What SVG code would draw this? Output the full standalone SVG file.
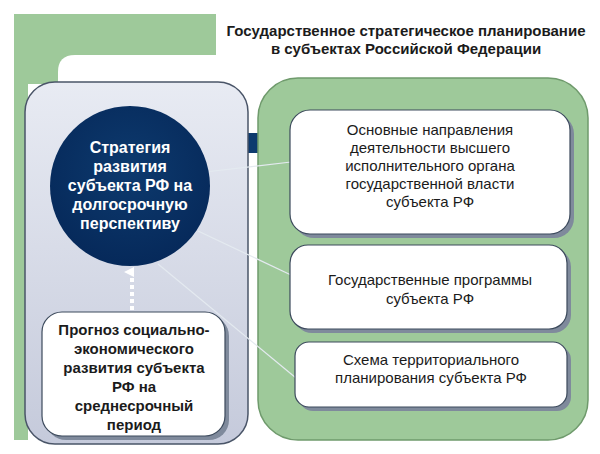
<svg xmlns="http://www.w3.org/2000/svg" width="600" height="454" viewBox="0 0 600 454">
<defs>
<linearGradient id="lg" x1="0" y1="0" x2="0" y2="1"><stop offset="0" stop-color="#e8ebf3"/><stop offset="1" stop-color="#c5cadb"/></linearGradient>
<radialGradient id="cg" cx="0.5" cy="0.4" r="0.6"><stop offset="0" stop-color="#0d3a6e"/><stop offset="1" stop-color="#06295a"/></radialGradient>
<marker id="ah" markerWidth="10" markerHeight="10" refX="5" refY="8" orient="auto" markerUnits="userSpaceOnUse"><path d="M0,10 L5,0 L10,10 Z" fill="#fff"/></marker>
</defs>
<style>
.box{fill:#fff;stroke:#3c4a5c;stroke-width:1.2}
.sh{fill:#7f8a9c}
.t{font-family:"Liberation Sans",Arial,sans-serif;font-size:15px;fill:#1b1b1b;text-anchor:middle}
.b{font-weight:bold}
.w{fill:#fff;font-weight:bold;font-size:16px}
.c{stroke:#e4eaf0;stroke-width:1.2;fill:none}
</style>
<rect width="600" height="454" fill="#fff"/>
<g id="background">
<rect x="14" y="14" width="202" height="70" fill="#9ec99a"/>
<rect x="14" y="14" width="14" height="426" fill="#9ec99a"/>
<path d="M58,84 L58,72 Q58,55 75,55 L216,55 L216,84 Z" fill="#fff"/>
</g>
<text class="t b" x="406" y="36" font-size="14">Государственное стратегическое планирование</text>
<text class="t b" x="406" y="54" font-size="14">в субъектах Российской Федерации</text>
<rect x="248" y="133" width="12" height="20" fill="#0d3a6e"/>
<g id="left-panel"><rect x="25" y="82" width="223" height="362" rx="30" fill="url(#lg)" stroke="#4a5568" stroke-width="1.5"/></g>
<g id="right-panel"><rect x="258" y="78" width="330" height="362" rx="40" fill="#9ec99a" stroke="#6f9a6c" stroke-width="1.5"/></g>
<g id="connectors">
<line class="c" x1="205" y1="172" x2="291" y2="162"/>
<line class="c" x1="198" y1="231" x2="291" y2="275"/>
<line class="c" x1="158" y1="264" x2="296" y2="378"/>
<line x1="132" y1="310" x2="132" y2="272" stroke="#fff" stroke-width="4" stroke-dasharray="4,3" marker-end="url(#ah)"/>
</g>
<g id="strategy">
<circle cx="130" cy="186" r="80" fill="url(#cg)"/>
<text class="t w" x="130" y="153">Стратегия</text>
<text class="t w" x="130" y="172">развития</text>
<text class="t w" x="130" y="191">субъекта РФ на</text>
<text class="t w" x="130" y="210">долгосрочную</text>
<text class="t w" x="130" y="229">перспективу</text>
</g>
<g id="forecast">
<rect class="sh" x="46" y="316" width="183" height="124" rx="20"/>
<rect class="box" x="42" y="312" width="183" height="124" rx="20"/>
<text class="t b" x="134" y="335" font-size="16">Прогноз социально-</text>
<text class="t b" x="134" y="354" font-size="16">экономического</text>
<text class="t b" x="134" y="373" font-size="16">развития субъекта</text>
<text class="t b" x="134" y="392" font-size="16">РФ на</text>
<text class="t b" x="134" y="411" font-size="16">среднесрочный</text>
<text class="t b" x="134" y="430" font-size="16">период</text>
</g>
<g id="box1">
<rect class="sh" x="294" y="114" width="280" height="124" rx="20"/>
<rect class="box" x="290" y="110" width="280" height="124" rx="20"/>
<text class="t" x="430" y="135">Основные направления</text>
<text class="t" x="430" y="153">деятельности высшего</text>
<text class="t" x="430" y="171">исполнительного органа</text>
<text class="t" x="430" y="189">государственной власти</text>
<text class="t" x="430" y="207">субъекта РФ</text>
</g>
<g id="box2">
<rect class="sh" x="294" y="249" width="277" height="84" rx="18"/>
<rect class="box" x="290" y="245" width="277" height="84" rx="18"/>
<text class="t" x="430" y="285">Государственные программы</text>
<text class="t" x="430" y="304">субъекта РФ</text>
</g>
<g id="box3">
<rect class="sh" x="299" y="346" width="272" height="65" rx="14"/>
<rect class="box" x="295" y="342" width="272" height="65" rx="14"/>
<text class="t" x="431" y="365">Схема территориального</text>
<text class="t" x="431" y="383">планирования субъекта РФ</text>
</g>
</svg>
